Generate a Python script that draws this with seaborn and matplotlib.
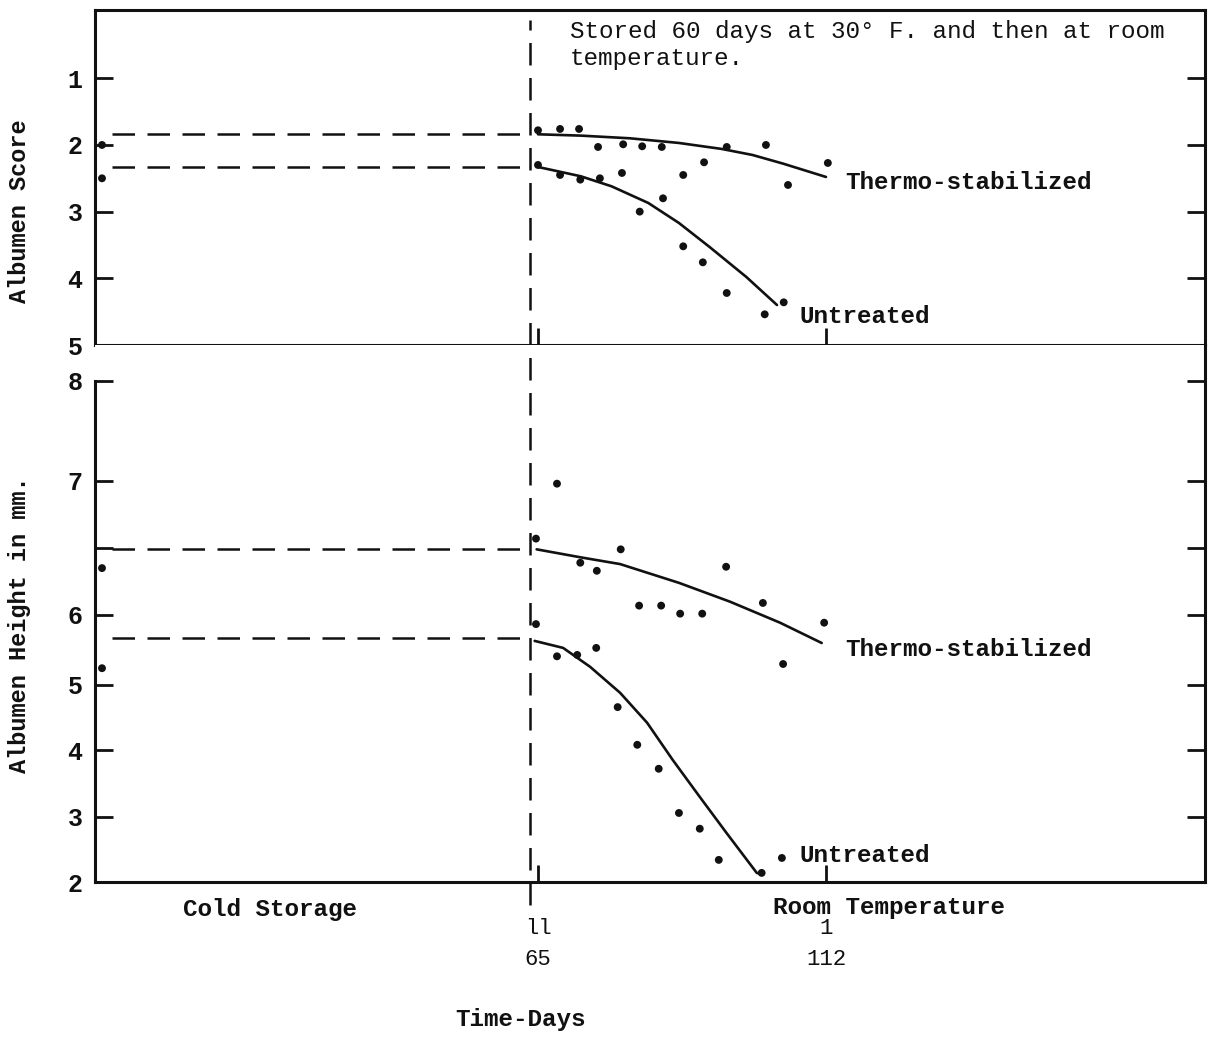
import numpy as np
import pandas as pd
import matplotlib
matplotlib.use("Agg")
import matplotlib.pyplot as plt
import seaborn as sns

# ---------------- data ----------------
# Top panel: Albumen score
score_cold_days = [0, 0]
score_cold_values = [2.0, 2.5]

score_thermo_days = [65.0, 68.6, 71.7, 74.8, 78.9, 82.0, 85.2, 88.7, 92.1, 95.8, 102.2, 105.8, 112.3]
score_thermo_values = [1.78, 1.76, 1.76, 2.03, 1.99, 2.02, 2.03, 2.45, 2.26, 2.03, 2.00, 2.60, 2.27]
score_untreated_days = [65.0, 68.6, 71.9, 75.1, 78.7, 81.6, 85.4, 88.7, 91.9, 95.8, 102.0, 105.1]
score_untreated_values = [2.30, 2.45, 2.52, 2.50, 2.42, 3.00, 2.80, 3.52, 3.76, 4.22, 4.54, 4.36]

score_thermo_curve_days = [65, 72, 80, 88, 95, 100, 105, 112]
score_thermo_curve_values = [1.84, 1.86, 1.90, 1.97, 2.06, 2.15, 2.28, 2.48]
score_untreated_curve_days = [65, 68, 72, 77, 83, 88, 93, 99, 104]
score_untreated_curve_values = [2.33, 2.39, 2.47, 2.62, 2.87, 3.17, 3.53, 3.98, 4.40]
score_start_levels = [1.84, 2.33]

# Bottom panel: Albumen height (mm)
height_cold_days = [0, 0]
height_cold_values = [6.35, 5.24]

height_thermo_days = [64.7, 68.1, 71.9, 74.6, 78.5, 81.5, 85.1, 88.2, 91.8, 95.7, 101.7, 105.0, 111.7]
height_thermo_values = [6.57, 6.98, 6.39, 6.33, 6.49, 6.07, 6.07, 6.01, 6.01, 6.36, 6.09, 5.30, 5.89]
height_untreated_days = [64.7, 68.1, 71.4, 74.5, 78.0, 81.2, 84.7, 88.0, 91.4, 94.5, 101.5, 104.8]
height_untreated_values = [5.87, 5.41, 5.43, 5.53, 4.66, 4.08, 3.72, 3.06, 2.82, 2.34, 2.14, 2.37]

height_thermo_curve_days = [64.8, 72.0, 78.4, 88.0, 96.3, 104.5, 111.3]
height_thermo_curve_values = [6.49, 6.43, 6.38, 6.24, 6.10, 5.89, 5.60]
height_untreated_curve_days = [64.5, 69.1, 73.5, 78.4, 82.8, 87.0, 91.4, 95.8, 100.7, 101.7]
height_untreated_curve_values = [5.63, 5.53, 5.26, 4.88, 4.42, 3.85, 3.30, 2.75, 2.14, 2.12]
height_start_levels = [6.49, 5.67]

transition_day = 63.8
x_tick_days = [65, 112]
x_tick_labels = ["ll\n65", "1\n112"]
score_ticks = [1, 2, 3, 4, 5]
height_ticks = [2, 3, 4, 5, 6, 6.5, 7, 8]
height_tick_labels = ["2", "3", "4", "5", "6", "", "7", "8"]

# ---------------- hand-drawn (piecewise) scales of the original ----------------
x_knots_val = [-100, 0, 65, 112, 400]
x_knots_pos = [-663, 7, 443, 731, 2496]
def x_fwd(v):
    return np.interp(v, x_knots_val, x_knots_pos)
def x_inv(p):
    return np.interp(p, x_knots_pos, x_knots_val)

h_knots_val = [0, 2, 3, 4, 5, 6, 7, 8, 20]
h_knots_pos = [-130, 0, 65, 132, 197, 267, 401, 501, 1701]
def h_fwd(v):
    return np.interp(v, h_knots_val, h_knots_pos)
def h_inv(p):
    return np.interp(p, h_knots_pos, h_knots_val)

# ---------------- style ----------------
sns.set_style("white")
plt.rcParams["font.family"] = ["Liberation Mono", "DejaVu Sans Mono"]
plt.rcParams["font.weight"] = "bold"
INK = "#111111"
FS = 17.5

W, H = 1214, 1038
fig = plt.figure(figsize=(W / 100, H / 100), dpi=100)
ax1 = fig.add_axes([95 / W, (H - 345) / H, 1110 / W, 335 / H])
ax2 = fig.add_axes([95 / W, (H - 882) / H, 1110 / W, 537 / H])

for ax in (ax1, ax2):
    ax.set_xscale("function", functions=(x_fwd, x_inv))
    ax.set_xlim(x_inv(0), x_inv(1110))
    for s in ax.spines.values():
        s.set_linewidth(2.2)
        s.set_color(INK)

ax2.set_yscale("function", functions=(h_fwd, h_inv))
ax1.set_ylim(5.0, -0.024)
ax2.set_ylim(2, 8.36)
ax2.spines["top"].set_visible(False)
ax2.spines["left"].set_bounds(2, 8)

dash = (0, (9, 5))
pt_size = 32

# ---- top panel ----
sns.scatterplot(x=score_cold_days + score_thermo_days + score_untreated_days,
                y=score_cold_values + score_thermo_values + score_untreated_values,
                color=INK, s=pt_size, edgecolor="none", ax=ax1, legend=False)
sns.lineplot(x=score_thermo_curve_days, y=score_thermo_curve_values, sort=False,
             estimator=None, color=INK, lw=1.9, ax=ax1)
sns.lineplot(x=score_untreated_curve_days, y=score_untreated_curve_values, sort=False,
             estimator=None, color=INK, lw=1.9, ax=ax1)
ax1.hlines(score_start_levels, 1.5, transition_day, colors=INK, linestyles=dash, lw=1.8)
ax1.axvline(transition_day, ymin=0, ymax=0.97, color=INK, ls=dash, lw=1.8)

# ---- bottom panel ----
sns.scatterplot(x=height_cold_days + height_thermo_days + height_untreated_days,
                y=height_cold_values + height_thermo_values + height_untreated_values,
                color=INK, s=pt_size, edgecolor="none", ax=ax2, legend=False)
sns.lineplot(x=height_thermo_curve_days, y=height_thermo_curve_values, sort=False,
             estimator=None, color=INK, lw=1.9, ax=ax2)
sns.lineplot(x=height_untreated_curve_days, y=height_untreated_curve_values, sort=False,
             estimator=None, color=INK, lw=1.9, ax=ax2)
ax2.hlines(height_start_levels, 1.5, transition_day, colors=INK, linestyles=dash, lw=1.8)
ax2.axvline(transition_day, ymin=-0.043, ymax=1, color=INK, ls=dash, lw=1.8, clip_on=False)

# ---- ticks ----
ax1.set_yticks(score_ticks)
ax1.set_yticklabels([str(t) for t in score_ticks])
ax2.set_yticks(height_ticks)
ax2.set_yticklabels(height_tick_labels)
for ax in (ax1, ax2):
    ax.set_xticks(x_tick_days)
    ax.minorticks_off()
    ax.tick_params(axis="y", direction="in", length=13, width=2, left=True, right=True,
                   labelsize=18, pad=9, colors=INK)
    ax.tick_params(axis="x", direction="in", length=12, width=2, bottom=True, top=False,
                   colors=INK)
ax1.tick_params(axis="x", labelbottom=False)
ax2.set_xticklabels(x_tick_labels, fontsize=16, fontweight="normal", linespacing=1.6)
ax2.tick_params(axis="x", pad=26)

# ---- labels ----
ax1.set_ylabel("Albumen Score", fontsize=17, fontweight="bold", color=INK)
ax1.yaxis.set_label_coords(-0.058, 0.40)
ax2.set_ylabel("Albumen Height in mm.", fontsize=17, fontweight="bold", color=INK)
ax2.yaxis.set_label_coords(-0.058, 0.48)
ax2.set_xlabel("Time-Days", fontsize=FS, fontweight="bold", color=INK)
ax2.xaxis.set_label_coords((520 - 95) / 1110, -0.235)

ax1.text(70.2, 0.97, "Stored 60 days at 30° F. and then at room\ntemperature.",
         transform=ax1.get_xaxis_transform(), ha="left", va="top", fontsize=FS,
         fontweight="normal", linespacing=1.2, color=INK)
ax1.text(115.1, 2.56, "Thermo-stabilized", ha="left", va="center", fontsize=FS,
         fontweight="bold", color=INK)
ax1.text(107.7, 4.57, "Untreated", ha="left", va="center", fontsize=FS,
         fontweight="bold", color=INK)
ax2.text(115.1, 5.5, "Thermo-stabilized", ha="left", va="center", fontsize=FS,
         fontweight="bold", color=INK)
ax2.text(107.7, 2.4, "Untreated", ha="left", va="center", fontsize=FS,
         fontweight="bold", color=INK)
ax2.text(25.1, -0.052, "Cold Storage", transform=ax2.get_xaxis_transform(),
         ha="center", va="center", fontsize=FS, fontweight="bold", color=INK, clip_on=False)
ax2.text(122.3, -0.048, "Room Temperature", transform=ax2.get_xaxis_transform(),
         ha="center", va="center", fontsize=FS, fontweight="bold", color=INK, clip_on=False)

fig.savefig("out.png", dpi=100, facecolor="white")
